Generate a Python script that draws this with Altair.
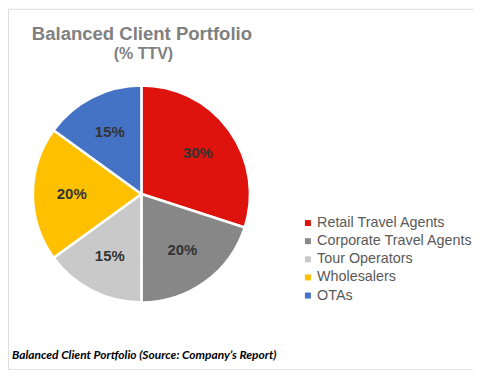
import altair as alt
import pandas as pd

categories = ["Retail Travel Agents", "Corporate Travel Agents", "Tour Operators", "Wholesalers", "OTAs"]
shares = [30, 20, 15, 20, 15]
colors = ["#DE130E", "#878787", "#C9C9C9", "#FFC000", "#4472C4"]

df = pd.DataFrame({
    "category": categories,
    "share": shares,
    "order": list(range(len(categories))),
    "label": [f"{v}%" for v in shares],
})

cx, cy = 134, 186

base = alt.Chart(df).encode(
    theta=alt.Theta("share:Q", stack=True),
    order=alt.Order("order:Q"),
)

arcs = base.mark_arc(outerRadius=109, stroke="white", strokeWidth=2.5).encode(
    x=alt.value(cx), y=alt.value(cy),
    color=alt.Color(
        "category:N",
        scale=alt.Scale(domain=categories, range=colors),
        sort=categories,
        legend=alt.Legend(
            title=None, orient="none", legendX=294, legendY=208,
            symbolType="square", symbolSize=36, symbolStrokeWidth=0,
            labelFont="Liberation Sans", labelFontSize=14.4, labelColor="#595959",
            rowPadding=3.2, labelOffset=2, labelLimit=300,
        ),
    ),
)

labels = base.mark_text(radius=70, font="Liberation Sans", fontWeight="bold",
                        fontSize=15, color="#333333").encode(
    x=alt.value(cx), y=alt.value(cy), text="label:N"
)

title_df = pd.DataFrame({"t": ["Balanced Client Portfolio"]})
title = alt.Chart(title_df).mark_text(font="Liberation Sans", fontWeight="bold", fontSize=18.6,
                                      color="#808080", align="center", baseline="alphabetic").encode(
    x=alt.value(134.5), y=alt.value(31), text="t:N")

sub_df = pd.DataFrame({"t": ["(% TTV)"]})
subtitle = alt.Chart(sub_df).mark_text(font="Liberation Sans", fontWeight="bold", fontSize=16,
                                       color="#808080", align="center", baseline="alphabetic").encode(
    x=alt.value(136), y=alt.value(50), text="t:N")

cap_df = pd.DataFrame({"t": ["Balanced Client Portfolio (Source: Company\u2019s Report)"]})
caption = alt.Chart(cap_df).mark_text(font="Lato", fontWeight="bold", fontStyle="italic", fontSize=12,
                                      color="#000000", align="left", baseline="alphabetic").encode(
    x=alt.value(4), y=alt.value(352), text="t:N")

chart = alt.layer(arcs, labels, title, subtitle, caption).properties(
    width=467, height=362, autosize=alt.AutoSizeParams(type="none"), padding=0,
).configure_view(stroke=None).configure(background="white")

chart.save("out.html", embed_options={"renderer": "svg", "actions": False})
